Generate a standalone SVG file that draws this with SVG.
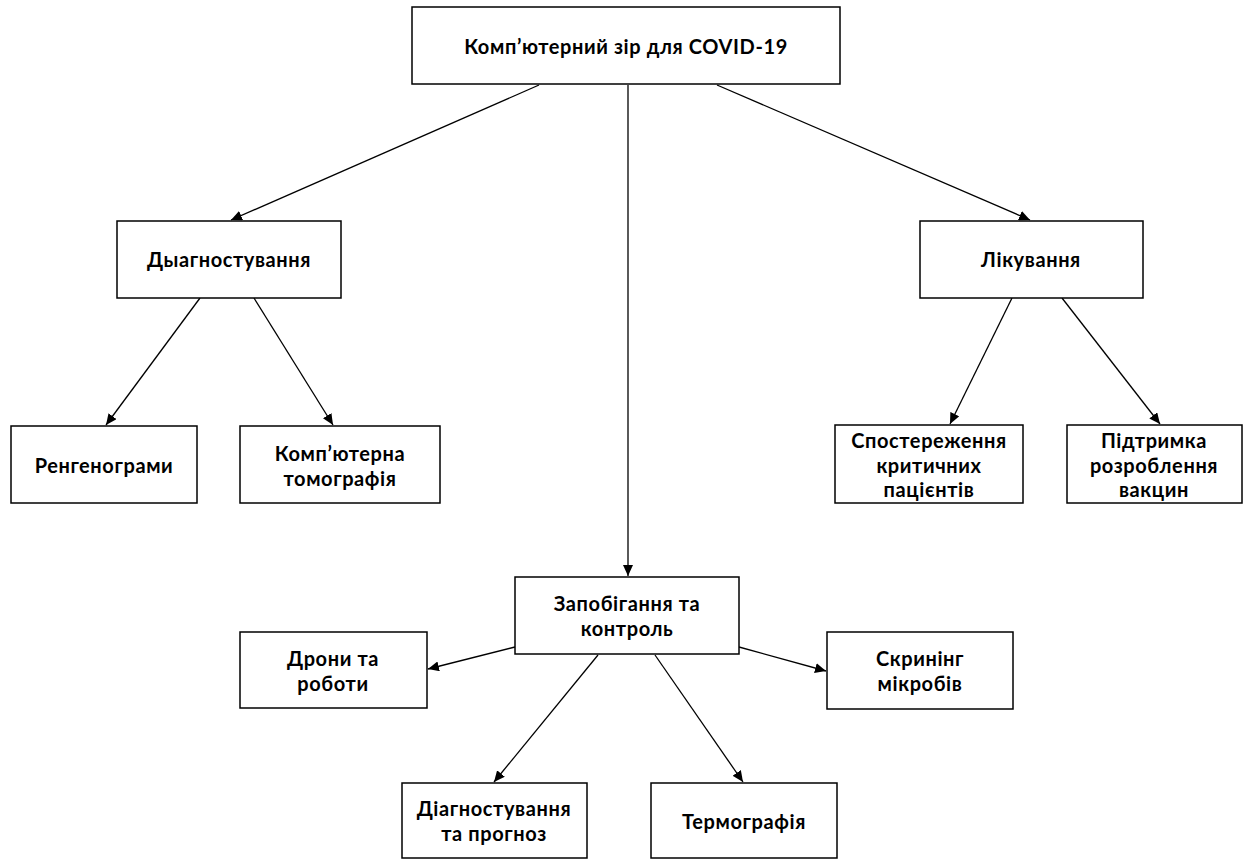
<svg xmlns="http://www.w3.org/2000/svg" width="1258" height="861" viewBox="0 0 1258 861">
<style>
.box{fill:#fff;stroke:#000;stroke-width:1.5}
.t{font-family:Lato,"Open Sans","Liberation Sans",sans-serif;font-weight:bold;font-size:20px;letter-spacing:0.6px;fill:#000;text-anchor:middle;dominant-baseline:central}
.c{stroke:#000;stroke-width:1.3;fill:none;marker-end:url(#ah)}
</style>
<defs>
<marker id="ah" markerUnits="userSpaceOnUse" markerWidth="12" markerHeight="10" refX="11" refY="5" orient="auto">
<path d="M0,0 L11,5 L0,10 Z" fill="#000"/>
</marker>
</defs>
<rect width="1258" height="861" fill="#fff"/>
<g id="connectors">
<line class="c" x1="539" y1="85" x2="231" y2="220"/>
<line class="c" x1="717" y1="85" x2="1030" y2="220"/>
<line class="c" x1="628" y1="85" x2="628" y2="576"/>
<line class="c" x1="200" y1="298" x2="106" y2="425"/>
<line class="c" x1="254" y1="298" x2="333" y2="425"/>
<line class="c" x1="1012" y1="298" x2="950" y2="424"/>
<line class="c" x1="1062" y1="298" x2="1160" y2="424"/>
<line class="c" x1="515" y1="647" x2="428" y2="669"/>
<line class="c" x1="739" y1="647" x2="826" y2="671"/>
<line class="c" x1="598" y1="655" x2="494" y2="782"/>
<line class="c" x1="655" y1="655" x2="743" y2="782"/>
</g>
<g id="root"><rect class="box" x="412" y="7" width="428" height="77"/><text class="t" x="626" y="46">Комп’ютерний зір для COVID-19</text></g>
<g id="diag"><rect class="box" x="117" y="221" width="224" height="77"/><text class="t" x="229" y="259">Дыагностування</text></g>
<g id="treat"><rect class="box" x="920" y="221" width="223" height="77"/><text class="t" x="1031" y="259">Лікування</text></g>
<g id="xray"><rect class="box" x="11" y="426" width="186" height="77"/><text class="t" x="104" y="465">Ренгенограми</text></g>
<g id="ct"><rect class="box" x="240" y="426" width="200" height="77"/><text class="t" x="340" y="453"><tspan x="340">Комп’ютерна</tspan><tspan x="340" dy="24.5">томографія</tspan></text></g>
<g id="monitor"><rect class="box" x="835" y="425" width="188" height="78"/><text class="t" x="929" y="440"><tspan x="929">Спостереження</tspan><tspan x="929" dy="24.5">критичних</tspan><tspan x="929" dy="24.5">пацієнтів</tspan></text></g>
<g id="vaccine"><rect class="box" x="1067" y="425" width="175" height="78"/><text class="t" x="1154" y="440"><tspan x="1154">Підтримка</tspan><tspan x="1154" dy="24.5">розроблення</tspan><tspan x="1154" dy="24.5">вакцин</tspan></text></g>
<g id="prevent"><rect class="box" x="515" y="577" width="224" height="77"/><text class="t" x="627" y="603"><tspan x="627">Запобігання та</tspan><tspan x="627" dy="24.5">контроль</tspan></text></g>
<g id="drones"><rect class="box" x="240" y="632" width="187" height="76"/><text class="t" x="333" y="658"><tspan x="333">Дрони та</tspan><tspan x="333" dy="24.5">роботи</tspan></text></g>
<g id="screen"><rect class="box" x="827" y="632" width="186" height="77"/><text class="t" x="920" y="658"><tspan x="920">Скринінг</tspan><tspan x="920" dy="24.5">мікробів</tspan></text></g>
<g id="diagprog"><rect class="box" x="402" y="783" width="185" height="75"/><text class="t" x="494" y="808"><tspan x="494">Діагностування</tspan><tspan x="494" dy="24.5">та прогноз</tspan></text></g>
<g id="thermo"><rect class="box" x="651" y="783" width="186" height="75"/><text class="t" x="744" y="821">Термографія</text></g>
</svg>
